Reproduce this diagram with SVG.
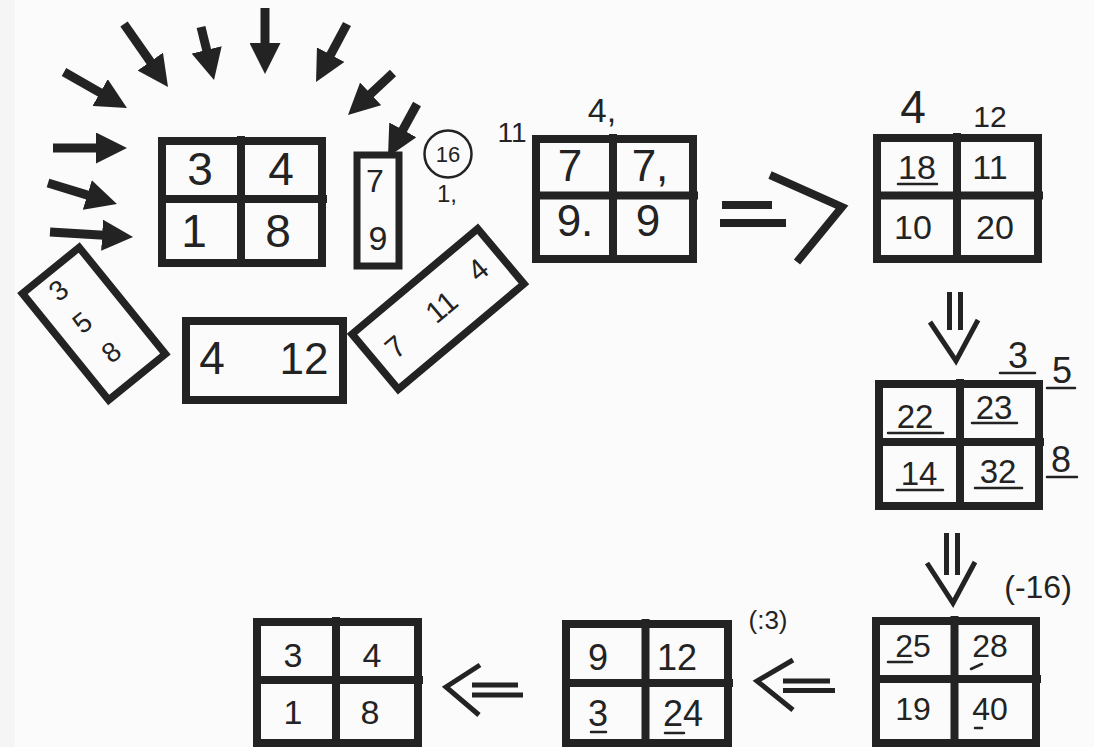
<svg xmlns="http://www.w3.org/2000/svg" width="1094" height="747" viewBox="0 0 1094 747">
<defs>
<marker id="head" markerUnits="userSpaceOnUse" markerWidth="31" markerHeight="31" viewBox="0 0 31 31" refX="2" refY="15.5" orient="auto">
<path d="M0,0 L31,15.5 L0,31 z" fill="#232323"/>
</marker>
<style>
.box{fill:none;stroke:#232323;stroke-width:8}
.div{stroke:#232323;stroke-width:8;fill:none}
.thin{fill:none;stroke:#232323;stroke-width:5;stroke-linecap:butt}
.ul{stroke:#232323;stroke-width:2.5;stroke-linecap:round;fill:none}
.arr{stroke:#232323;stroke-width:9;fill:none}
text{font-family:"Liberation Sans",Arial,sans-serif;fill:#232323;text-anchor:middle}
</style>
</defs>
<rect x="0" y="0" width="1094" height="747" fill="#fbfbfb"/>
<rect x="0" y="0" width="15" height="747" fill="#f5f5f5"/>

<g id="connectors">
<line class="arr" x1="53" y1="148" x2="98" y2="148" marker-end="url(#head)"/>
<line class="arr" x1="48" y1="183" x2="89.2" y2="195.6" marker-end="url(#head)"/>
<line class="arr" x1="50" y1="232" x2="104.1" y2="235.3" marker-end="url(#head)"/>
<line class="arr" x1="64" y1="72" x2="101.8" y2="93.6" marker-end="url(#head)"/>
<line class="arr" x1="124" y1="24" x2="151.4" y2="63.2" marker-end="url(#head)"/>
<line class="arr" x1="201" y1="27" x2="207.1" y2="51.8" marker-end="url(#head)"/>
<line class="arr" x1="265" y1="8" x2="265" y2="45" marker-end="url(#head)"/>
<line class="arr" x1="347" y1="24" x2="329.7" y2="56.4" marker-end="url(#head)"/>
<line class="arr" x1="393" y1="73" x2="369.2" y2="95.2" marker-end="url(#head)"/>
<line class="arr" x1="417" y1="104" x2="401.9" y2="131.6" marker-end="url(#head)"/>
<!-- big => -->
<line class="div" x1="722" y1="205" x2="772" y2="205"/>
<line class="div" x1="720" y1="223" x2="786" y2="223"/>
<polyline class="div" points="770,175 842,207 797,262"/>
<!-- down arrow 1 -->
<line class="thin" x1="949.5" y1="292" x2="949.5" y2="330"/>
<line class="thin" x1="960.5" y1="292" x2="960.5" y2="330"/>
<polyline class="thin" points="930,322 956,361 978,320"/>
<!-- down arrow 2 -->
<line class="thin" x1="946.5" y1="533" x2="946.5" y2="575"/>
<line class="thin" x1="957.5" y1="533" x2="957.5" y2="575"/>
<polyline class="thin" points="927,563 953,603 975,562"/>
<!-- left arrow 1 -->
<polyline class="thin" points="793,660 757,681 793,710"/>
<line class="thin" x1="783" y1="681" x2="830" y2="681"/>
<line class="thin" x1="783" y1="690.5" x2="835" y2="690.5"/>
<!-- left arrow 2 -->
<polyline class="thin" points="480,665 446,687 479,715"/>
<line class="thin" x1="472" y1="685" x2="518" y2="685"/>
<line class="thin" x1="472" y1="695" x2="523" y2="695"/>
</g>

<g id="box1">
<rect class="box" x="162" y="141" width="160" height="122"/>
<line class="div" x1="241" y1="136" x2="241" y2="263"/>
<line class="div" x1="162" y1="199" x2="327" y2="199"/>
<text x="200" y="184.5" font-size="46">3</text>
<text x="281" y="184.5" font-size="46">4</text>
<text x="194" y="246.5" font-size="46">1</text>
<text x="278" y="246.5" font-size="46">8</text>
</g>

<g id="box-79">
<rect class="box" x="357" y="155" width="42" height="111" style="stroke-width:7"/>
<text x="375" y="191.5" font-size="32">7</text>
<text x="378" y="250" font-size="34">9</text>
</g>

<g id="circle16">
<circle cx="448" cy="154" r="23.5" fill="none" stroke="#232323" stroke-width="2.5"/>
<text x="448" y="162" font-size="22">16</text>
<text x="447" y="202" font-size="24">1,</text>
</g>

<g id="tilt-358" transform="translate(94,323) rotate(-39)">
<rect class="box" x="-37" y="-68" width="73" height="137" style="stroke-width:7.5"/>
<text x="-7" y="-38" font-size="28">3</text>
<text x="-9" y="2" font-size="28">5</text>
<text x="-5" y="43" font-size="28">8</text>
</g>

<g id="rect-4-12">
<rect class="box" x="186" y="321" width="157" height="79"/>
<text x="212" y="373.5" font-size="46">4</text>
<text x="304" y="373.5" font-size="44">12</text>
</g>

<g id="tilt-7-11-4" transform="translate(438,309) rotate(-40)">
<rect class="box" x="-82" y="-36" width="164" height="72" style="stroke-width:7.5"/>
<text x="-57" y="12" font-size="30">7</text>
<text x="4" y="11" font-size="30">11</text>
<text x="56" y="6" font-size="30">4</text>
</g>

<g id="box2">
<text x="512" y="142" font-size="28">11</text>
<text x="602" y="122" font-size="34">4,</text>
<rect class="box" x="536" y="139" width="157" height="120"/>
<line class="div" x1="613" y1="134" x2="613" y2="259"/>
<line class="div" x1="536" y1="195.5" x2="698" y2="195.5"/>
<text x="570" y="181" font-size="44">7</text>
<text x="650" y="181" font-size="44">7,</text>
<text x="575" y="236" font-size="44">9.</text>
<text x="648" y="236" font-size="44">9</text>
</g>

<g id="box3">
<text x="913" y="123" font-size="46">4</text>
<text x="990" y="127" font-size="30">12</text>
<rect class="box" x="877" y="138" width="161" height="121"/>
<line class="div" x1="957" y1="133" x2="957" y2="259"/>
<line class="div" x1="877" y1="195.5" x2="1043" y2="195.5"/>
<text x="917" y="179" font-size="34">18</text>
<line class="ul" x1="898" y1="184" x2="937" y2="184"/>
<text x="990" y="179" font-size="34">11</text>
<text x="913" y="239" font-size="34">10</text>
<text x="995" y="239" font-size="34">20</text>
</g>

<g id="box4">
<text x="1018" y="368" font-size="36">3</text>
<line class="ul" x1="1000" y1="373" x2="1035" y2="373"/>
<text x="1062" y="383" font-size="36">5</text>
<line class="ul" x1="1047" y1="388" x2="1075" y2="388"/>
<text x="1061" y="472" font-size="36">8</text>
<line class="ul" x1="1047" y1="477" x2="1077" y2="477"/>
<rect class="box" x="879" y="384" width="160" height="122"/>
<line class="div" x1="960" y1="379" x2="960" y2="506"/>
<line class="div" x1="879" y1="442" x2="1044" y2="442"/>
<text x="915" y="428" font-size="33">22</text>
<line class="ul" x1="888" y1="433" x2="943" y2="433"/>
<text x="994" y="419" font-size="33">23</text>
<line class="ul" x1="972" y1="423" x2="1017" y2="423"/>
<text x="919" y="485" font-size="33">14</text>
<line class="ul" x1="897" y1="490" x2="943" y2="490"/>
<text x="998" y="483" font-size="33">32</text>
<line class="ul" x1="975" y1="488" x2="1022" y2="488"/>
</g>

<g id="box5">
<text x="1038" y="598" font-size="32">(-16)</text>
<rect class="box" x="876" y="621" width="160" height="122"/>
<line class="div" x1="954.5" y1="616" x2="954.5" y2="743"/>
<line class="div" x1="876" y1="679" x2="1041" y2="679"/>
<text x="913" y="657" font-size="32">25</text>
<line class="ul" x1="888" y1="662" x2="912" y2="662"/>
<text x="990" y="657" font-size="32">28</text>
<line class="ul" x1="971" y1="669" x2="982" y2="664"/>
<text x="913" y="720" font-size="32">19</text>
<text x="990" y="720" font-size="32">40</text>
<line class="ul" x1="975" y1="728" x2="982" y2="728"/>
</g>

<g id="box6">
<text x="768" y="629" font-size="26">(:3)</text>
<rect class="box" x="566" y="624" width="162" height="119"/>
<line class="div" x1="645.5" y1="619" x2="645.5" y2="743"/>
<line class="div" x1="566" y1="683" x2="733" y2="683"/>
<text x="598" y="670" font-size="36">9</text>
<text x="677" y="670" font-size="36">12</text>
<text x="598" y="726" font-size="36">3</text>
<line class="ul" x1="591" y1="732" x2="606" y2="732"/>
<text x="683" y="726" font-size="36">24</text>
<line class="ul" x1="665" y1="733" x2="684" y2="733"/>
</g>

<g id="box7">
<rect class="box" x="257" y="622" width="161" height="121"/>
<line class="div" x1="336" y1="617" x2="336" y2="743"/>
<line class="div" x1="257" y1="680" x2="423" y2="680"/>
<text x="293" y="667" font-size="34">3</text>
<text x="372" y="667" font-size="34">4</text>
<text x="293" y="724" font-size="34">1</text>
<text x="370" y="724" font-size="34">8</text>
</g>
</svg>
